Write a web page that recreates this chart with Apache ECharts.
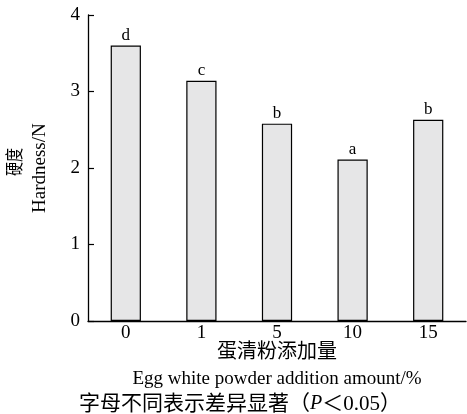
<!DOCTYPE html>
<html><head><meta charset="utf-8">
<script src="https://cdn.jsdelivr.net/npm/echarts@6/dist/echarts.min.js"></script>
<style>html,body{margin:0;padding:0;background:#fff}#c{width:467px;height:414px}</style>
</head><body><div id="c"></div>
<script>
var categories = ['0', '1', '5', '10', '15'];
var hardness = [3.6, 3.14, 2.58, 2.11, 2.63];
var letters = ['d', 'c', 'b', 'a', 'b'];
var yTicks = [0, 1, 2, 3, 4];

var serif = '"Liberation Serif", "Times New Roman", "Noto Sans CJK SC", serif';
var cjk = '"Liberation Serif", "Noto Sans CJK SC", serif';
var chart = echarts.init(document.getElementById('c'), null, {renderer: 'canvas'});
chart.setOption({
  animation: false,
  backgroundColor: '#fff',
  grid: {left: 88, top: 15, right: 1, bottom: 93, containLabel: false},
  xAxis: {
    type: 'category',
    data: categories,
    boundaryGap: true,
    axisLine: {lineStyle: {color: '#000', width: 1.3}},
    axisTick: {inside: true, length: 6, lineStyle: {color: '#000', width: 1.2}, alignWithLabel: false},
    axisLabel: {color: '#000', fontFamily: serif, fontSize: 19, margin: 3}
  },
  yAxis: {
    type: 'value',
    min: yTicks[0], max: yTicks[yTicks.length - 1], interval: 1,
    axisLine: {show: true, lineStyle: {color: '#000', width: 1.3}},
    axisTick: {show: true, inside: true, length: 6, lineStyle: {color: '#000', width: 1.2}},
    axisLabel: {color: '#000', fontFamily: serif, fontSize: 19, margin: 8},
    splitLine: {show: false}
  },
  series: [{
    type: 'bar',
    data: hardness,
    barWidth: '40%',
    itemStyle: {color: '#e6e6e7', borderColor: '#000', borderWidth: 1.2},
    label: {
      show: true, position: 'top', distance: 2,
      formatter: function (p) { return letters[p.dataIndex]; },
      color: '#000', fontFamily: serif, fontSize: 17
    }
  }],
  graphic: [
    {type: 'text', x: 7, y: 162, rotation: Math.PI / 2, scaleX: 0.78, scaleY: 1,
     style: {text: '硬度', font: '18px ' + cjk, fill: '#000', textAlign: 'center', textVerticalAlign: 'top'}},
    {type: 'text', x: 31, y: 213, rotation: Math.PI / 2,
     style: {text: 'Hardness/N', font: '19px ' + serif, fill: '#000', textAlign: 'left', textVerticalAlign: 'top'}},
    {type: 'text', x: 277, y: 353, style: {text: '蛋清粉添加量', font: '20px ' + cjk, fill: '#000', textAlign: 'center', textVerticalAlign: 'middle'}},
    {type: 'text', x: 277, y: 379, style: {text: 'Egg white powder addition amount/%', font: '19px ' + serif, fill: '#000', textAlign: 'center', textVerticalAlign: 'middle'}},
    {type: 'text', x: 240, y: 404, style: {
      text: '{a|字母不同表示差异显著（}{i|P}{a|＜0.05）}',
      textAlign: 'center', textVerticalAlign: 'middle',
      rich: {
        a: {fontFamily: cjk, fontSize: 21, fill: '#000', color: '#000'},
        i: {fontFamily: serif, fontSize: 20, fontStyle: 'italic', fill: '#000', color: '#000'}
      }}}
  ]
});
</script></body></html>
